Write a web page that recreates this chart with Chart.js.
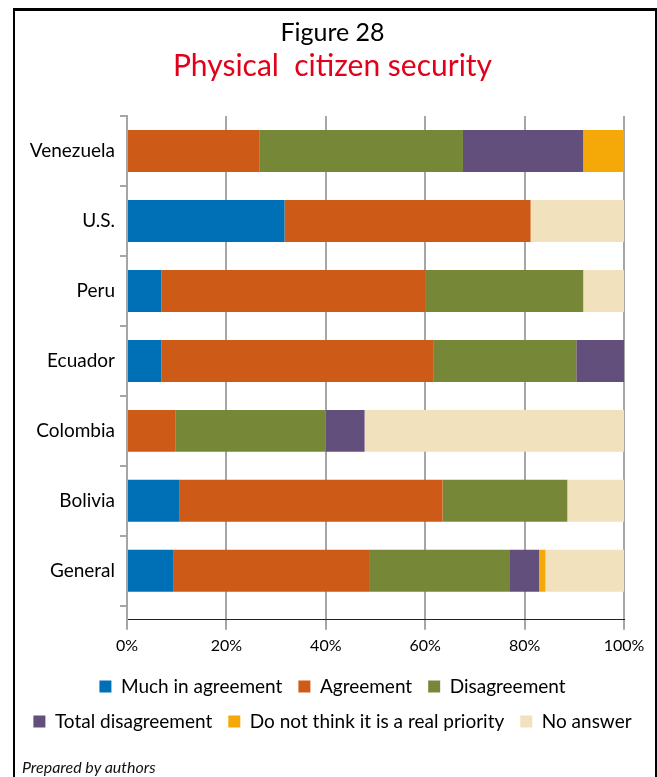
<!DOCTYPE html>
<html>
<head>
<meta charset="utf-8">
<script src="https://cdn.jsdelivr.net/npm/chart.js@4.4.1/dist/chart.umd.min.js"></script>
<style>
  html, body { margin:0; padding:0; background:#fff; }
  #wrap { position:relative; width:657px; height:777px; overflow:hidden; }
  #frame { position:absolute; left:13px; top:8px; width:640px; height:800px; border-top:3px solid #000; border-left:2px solid #000; border-right:2px solid #000; }
  #note { position:absolute; left:22px; top:757px; font:italic 16px Lato, sans-serif; color:#111; }
</style>
</head>
<body>
<div id="wrap">
  <canvas id="chart" width="657" height="777"></canvas>
  <div id="frame"></div>
  <div id="note">Prepared by authors</div>
</div>
<script>
const countries = ['Venezuela', 'U.S.', 'Peru', 'Ecuador', 'Colombia', 'Bolivia', 'General'];
const muchAgree   = [0, 31.7, 6.9, 6.9, 0, 10.6, 9.4];
const agree       = [26.6, 49.5, 53.1, 54.7, 9.7, 52.9, 39.3];
const disagree    = [41.0, 0, 31.8, 28.8, 30.3, 25.1, 28.2];
const totalDis    = [24.2, 0, 0, 9.6, 7.8, 0, 6.0];
const notPriority = [8.2, 0, 0, 0, 0, 0, 1.3];
const noAnswer    = [0, 18.8, 8.2, 0, 52.2, 11.4, 15.8];
const xTicks = ['0%', '20%', '40%', '60%', '80%', '100%'];

const series = [
  { label: 'Much in agreement', data: muchAgree, color: '#0070b6' },
  { label: 'Agreement', data: agree, color: '#ce5a18' },
  { label: 'Disagreement', data: disagree, color: '#768838' },
  { label: 'Total disagreement', data: totalDis, color: '#634f7c' },
  { label: 'Do not think it is a real priority', data: notPriority, color: '#f5a909' },
  { label: 'No answer', data: noAnswer, color: '#f2e1bd' }
];

const ctx = document.getElementById('chart').getContext('2d');
new Chart(ctx, {
  type: 'bar',
  data: {
    labels: countries,
    datasets: series.map(s => ({
      label: s.label, data: s.data, backgroundColor: s.color, borderWidth: 0,
      barPercentage: 0.6, categoryPercentage: 1
    }))
  },
  options: {
    indexAxis: 'y',
    responsive: false,
    animation: false,
    layout: { padding: { left: 8, right: 0, top: 11, bottom: 36 } },
    plugins: {
      tooltip: { enabled: false },
      title: {
        display: true, text: 'Figure 28', color: '#000',
        font: { family: 'Lato', size: 25, weight: 'normal', lineHeight: 1.0 },
        padding: { top: 9, bottom: 1 }
      },
      subtitle: {
        display: true, text: 'Physical  citizen security', color: '#e2001a',
        font: { family: 'Lato', size: 30, weight: 'normal', lineHeight: 1.0 },
        padding: { top: 5, bottom: 35 }
      },
      legend: {
        position: 'bottom',
        labels: {
          color: '#000', boxWidth: 12, boxHeight: 12, padding: 16,
          font: { family: 'Lato', size: 19 }
        }
      }
    },
    scales: {
      x: {
        stacked: true, min: 0, max: 100,
        ticks: { stepSize: 20, color: '#000', padding: 6,
          font: { family: 'Lato', size: 16 },
          callback: (v, i) => xTicks[i] },
        grid: { color: '#a6a6a6', lineWidth: 2, tickLength: 10, drawTicks: true },
        border: { color: '#222', width: 1 },
        afterFit: s => { s.paddingRight = 33; }
      },
      y: {
        stacked: true,
        ticks: { color: '#000', padding: 5, font: { family: 'Lato', size: 19 } },
        grid: { display: true, drawOnChartArea: false, drawTicks: true, tickLength: 7, color: '#a6a6a6', lineWidth: 2 },
        border: { color: '#a6a6a6', width: 2 },
        // leave a little empty space under the last category, as in the original
        afterBuildTicks: s => { s._valueRange = 7.2; },
        afterFit: s => { s.width = 119; }
      }
    }
  }
});
</script>
</body>
</html>
